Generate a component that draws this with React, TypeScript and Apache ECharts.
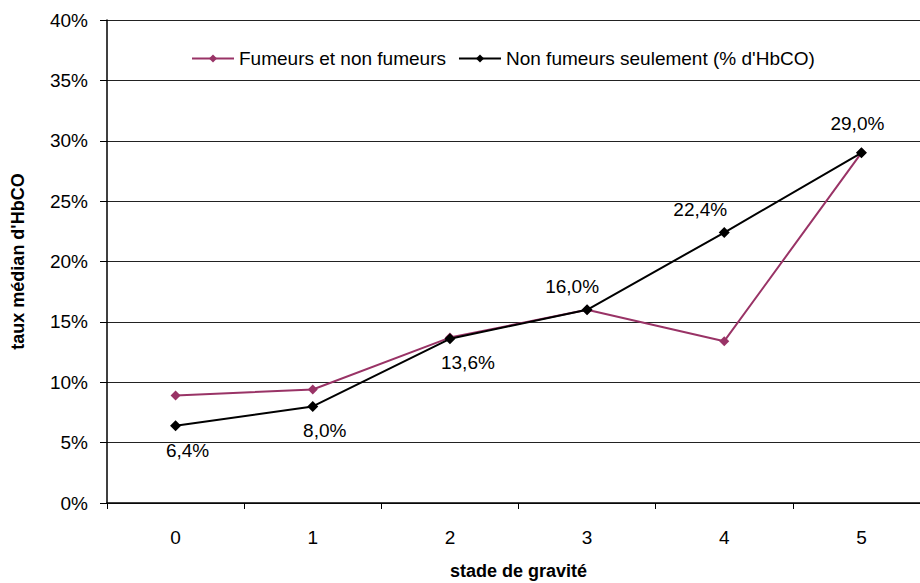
import React, { useEffect, useRef } from "react";
import * as echarts from "echarts";

const categories = ["0", "1", "2", "3", "4", "5"];
const fumeursEtNonFumeurs = [8.9, 9.4, 13.7, 16.0, 13.4, 29.0];
const nonFumeurs = [6.4, 8.0, 13.6, 16.0, 22.4, 29.0];
const seriesNames = ["Fumeurs et non fumeurs", "Non fumeurs seulement (% d'HbCO)"];
const labelPlacement = [
  { position: "bottom", offset: [12, 5] },
  { position: "bottom", offset: [12, 4] },
  { position: "bottom", offset: [18, 4] },
  { position: "top", offset: [-15, -3] },
  { position: "top", offset: [-24, -3] },
  { position: "top", offset: [-4, -9] },
];

const FONT = "'Liberation Sans', Arial, sans-serif";

export default function App() {
  const ref = useRef<HTMLDivElement>(null);
  useEffect(() => {
    if (!ref.current) return;
    const chart = echarts.init(ref.current, null, { renderer: "svg" });
    chart.setOption({
      animation: false,
      backgroundColor: "#ffffff",
      textStyle: { fontFamily: FONT, color: "#000" },
      legend: {
        top: 44,
        left: 186,
        itemWidth: 42,
        itemHeight: 10,
        itemGap: 12,
        textStyle: { fontSize: 19, color: "#000", fontFamily: FONT },
        data: seriesNames,
      },
      grid: {
        left: 107,
        top: 20,
        width: 823,
        height: 483,
        containLabel: false,
        outerBoundsMode: "none",
      },
      xAxis: {
        type: "category",
        data: categories,
        boundaryGap: true,
        axisLine: { lineStyle: { color: "#000", width: 1.5 } },
        axisTick: { show: true, length: 6, lineStyle: { color: "#000" } },
        axisLabel: { margin: 25, fontSize: 19, color: "#000", fontFamily: FONT },
        name: "stade de gravité",
        nameLocation: "middle",
        nameGap: 59,
        nameTextStyle: { fontSize: 18, fontWeight: "bold", color: "#000", fontFamily: FONT },
      },
      yAxis: {
        type: "value",
        min: 0,
        max: 40,
        interval: 5,
        axisLine: { show: true, lineStyle: { color: "#000", width: 1.5 } },
        axisTick: { show: true, length: 7, lineStyle: { color: "#000" } },
        axisLabel: { formatter: "{value}%", margin: 19, fontSize: 19, color: "#000", fontFamily: FONT },
        splitLine: { show: true, lineStyle: { color: "#222", width: 1 } },
        name: "taux médian d'HbCO",
        nameLocation: "middle",
        nameRotate: 90,
        nameGap: 80,
        nameTextStyle: { fontSize: 18, fontWeight: "bold", color: "#000", fontFamily: FONT },
      },
      series: [
        {
          name: seriesNames[0],
          type: "line",
          data: fumeursEtNonFumeurs,
          color: "#993366",
          symbol: "diamond",
          symbolSize: 10,
          lineStyle: { width: 2, color: "#993366" },
          itemStyle: { color: "#993366" },
          z: 2,
        },
        {
          name: seriesNames[1],
          type: "line",
          data: nonFumeurs.map((v, i) => ({
            value: v,
            label: {
              show: true,
              position: labelPlacement[i].position,
              offset: labelPlacement[i].offset,
            },
          })),
          color: "#000",
          symbol: "diamond",
          symbolSize: 11,
          lineStyle: { width: 2, color: "#000" },
          itemStyle: { color: "#000" },
          label: {
            show: true,
            fontSize: 19,
            color: "#000",
            fontFamily: FONT,
            formatter: (p: any) => p.value.toFixed(1).replace(".", ",") + "%",
          },
          z: 3,
        },
      ],
    });
    return () => chart.dispose();
  }, []);
  return (
    <div
      ref={ref}
      style={{ position: "fixed", left: 0, top: 0, width: 920, height: 583, overflow: "hidden" }}
    />
  );
}
